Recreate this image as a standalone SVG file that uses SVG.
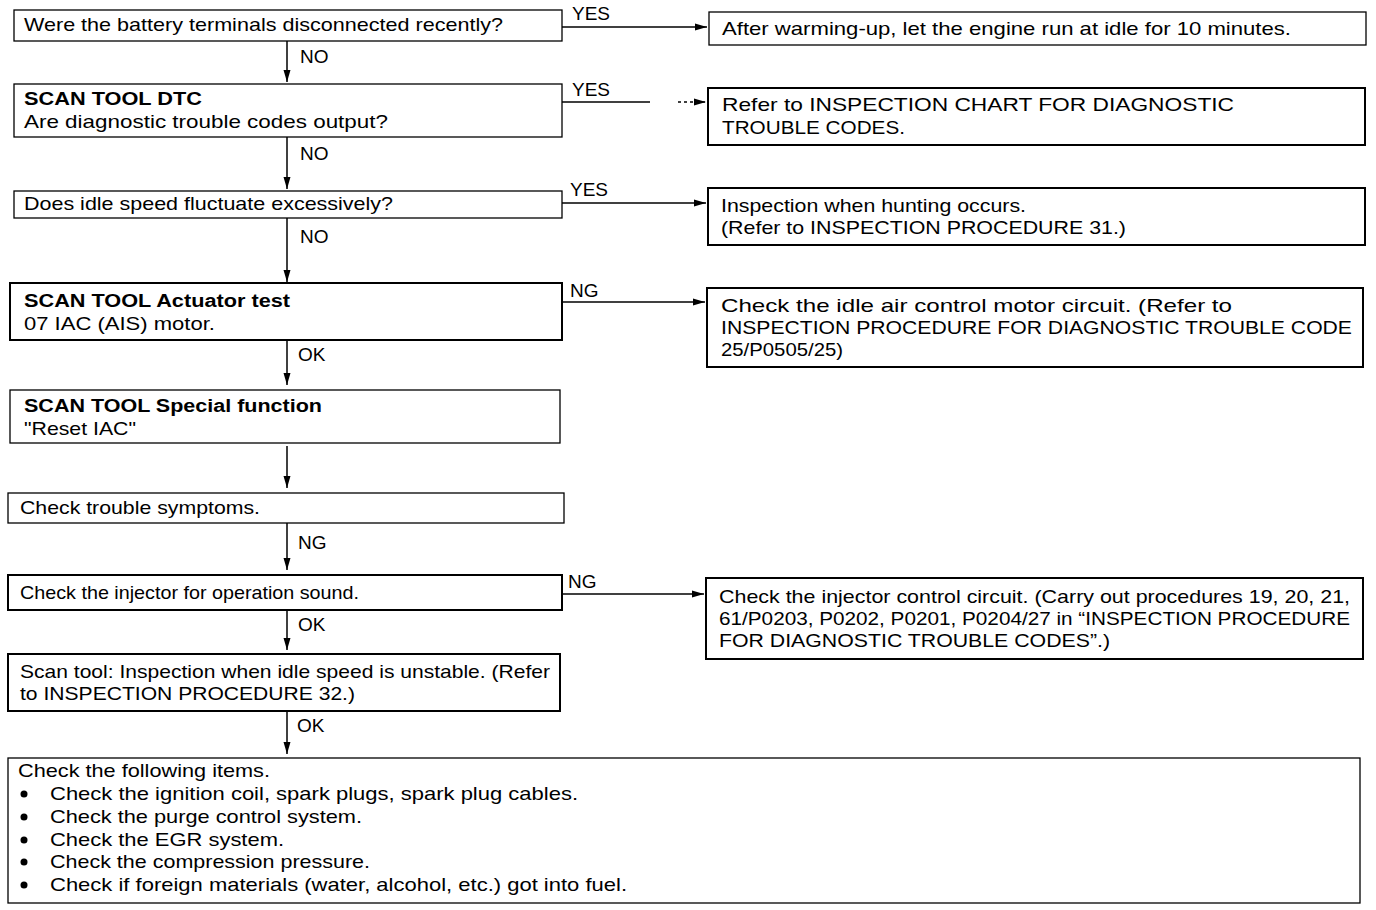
<svg xmlns="http://www.w3.org/2000/svg" width="1376" height="910" viewBox="0 0 1376 910">
<defs>
<style>
.box{fill:#fff;stroke:#000;stroke-width:1.3}
.thk{stroke-width:2}
text{font-family:"Liberation Sans",Arial,sans-serif;font-size:19px;fill:#000}
.b{font-weight:bold;font-size:18px}
.ln{stroke:#000;stroke-width:1.5;fill:none}
</style>
<marker id="ah" markerWidth="12" markerHeight="8" refX="12" refY="4" orient="auto" markerUnits="userSpaceOnUse">
<path d="M0,0.5 L12,4 L0,7.5 Z" fill="#000"/>
</marker>
</defs>
<rect width="1376" height="910" fill="#fff"/>

<g id="n1"><rect class="box" x="14" y="10" width="548" height="31"/><text x="24" y="31" textLength="479" lengthAdjust="spacingAndGlyphs">Were the battery terminals disconnected recently?</text></g>
<g id="n2"><rect class="box" x="14" y="84" width="548" height="53"/><text class="b" x="24" y="105" textLength="178" lengthAdjust="spacingAndGlyphs">SCAN TOOL DTC</text><text x="24" y="128" textLength="364" lengthAdjust="spacingAndGlyphs">Are diagnostic trouble codes output?</text></g>
<g id="n3"><rect class="box" x="14" y="191" width="548" height="27"/><text x="24" y="210" textLength="369" lengthAdjust="spacingAndGlyphs">Does idle speed fluctuate excessively?</text></g>
<g id="n4"><rect class="box thk" x="10" y="283" width="552" height="57"/><text class="b" x="24" y="307" textLength="266" lengthAdjust="spacingAndGlyphs">SCAN TOOL Actuator test</text><text x="24" y="330" textLength="191" lengthAdjust="spacingAndGlyphs">07 IAC (AIS) motor.</text></g>
<g id="n5"><rect class="box" x="10" y="390" width="550" height="53"/><text class="b" x="24" y="412" textLength="298" lengthAdjust="spacingAndGlyphs">SCAN TOOL Special function</text><text x="24" y="435" textLength="112" lengthAdjust="spacingAndGlyphs">"Reset IAC"</text></g>
<g id="n6"><rect class="box" x="8" y="493" width="556" height="30"/><text x="20" y="514" textLength="240" lengthAdjust="spacingAndGlyphs">Check trouble symptoms.</text></g>
<g id="n7"><rect class="box thk" x="8" y="575" width="554" height="35"/><text x="20" y="599" textLength="339" lengthAdjust="spacingAndGlyphs">Check the injector for operation sound.</text></g>
<g id="n8"><rect class="box thk" x="8" y="654" width="552" height="57"/><text x="20" y="678" textLength="530" lengthAdjust="spacingAndGlyphs">Scan tool: Inspection when idle speed is unstable. (Refer</text><text x="20" y="700" textLength="335" lengthAdjust="spacingAndGlyphs">to INSPECTION PROCEDURE 32.)</text></g>
<g id="n9"><rect class="box" x="8" y="758" width="1352" height="145"/>
<text x="18" y="777" textLength="252" lengthAdjust="spacingAndGlyphs">Check the following items.</text>
<circle cx="24" cy="794" r="3.5"/><text x="50" y="800" textLength="528" lengthAdjust="spacingAndGlyphs">Check the ignition coil, spark plugs, spark plug cables.</text>
<circle cx="24" cy="817" r="3.5"/><text x="50" y="823" textLength="312" lengthAdjust="spacingAndGlyphs">Check the purge control system.</text>
<circle cx="24" cy="840" r="3.5"/><text x="50" y="846" textLength="234" lengthAdjust="spacingAndGlyphs">Check the EGR system.</text>
<circle cx="24" cy="862" r="3.5"/><text x="50" y="868" textLength="320" lengthAdjust="spacingAndGlyphs">Check the compression pressure.</text>
<circle cx="24" cy="885" r="3.5"/><text x="50" y="891" textLength="577" lengthAdjust="spacingAndGlyphs">Check if foreign materials (water, alcohol, etc.) got into fuel.</text>
</g>

<g id="r1"><rect class="box" x="709" y="12" width="657" height="33"/><text x="722" y="35" textLength="569" lengthAdjust="spacingAndGlyphs">After warming-up, let the engine run at idle for 10 minutes.</text></g>
<g id="r2"><rect class="box thk" x="708" y="88" width="657" height="57"/><text x="722" y="111" textLength="512" lengthAdjust="spacingAndGlyphs">Refer  to INSPECTION  CHART  FOR  DIAGNOSTIC</text><text x="722" y="134" textLength="183" lengthAdjust="spacingAndGlyphs">TROUBLE CODES.</text></g>
<g id="r3"><rect class="box thk" x="708" y="188" width="657" height="57"/><text x="721" y="212" textLength="305" lengthAdjust="spacingAndGlyphs">Inspection when hunting occurs.</text><text x="721" y="234" textLength="405" lengthAdjust="spacingAndGlyphs">(Refer to INSPECTION PROCEDURE 31.)</text></g>
<g id="r4"><rect class="box thk" x="707" y="288" width="656" height="79"/><text x="721" y="312" textLength="511" lengthAdjust="spacingAndGlyphs">Check the idle air control motor circuit. (Refer to</text><text x="721" y="334" textLength="631" lengthAdjust="spacingAndGlyphs">INSPECTION PROCEDURE FOR DIAGNOSTIC TROUBLE CODE</text><text x="721" y="356" textLength="122" lengthAdjust="spacingAndGlyphs">25/P0505/25)</text></g>
<g id="r5"><rect class="box thk" x="706" y="578" width="657" height="81"/><text x="719" y="603" textLength="631" lengthAdjust="spacingAndGlyphs">Check the injector control circuit. (Carry out procedures 19, 20, 21,</text><text x="719" y="625" textLength="631" lengthAdjust="spacingAndGlyphs">61/P0203, P0202, P0201, P0204/27 in “INSPECTION PROCEDURE</text><text x="719" y="647" textLength="391" lengthAdjust="spacingAndGlyphs">FOR DIAGNOSTIC TROUBLE CODES”.)</text></g>

<g id="connectors">
<line class="ln" x1="287" y1="41" x2="287" y2="82" marker-end="url(#ah)"/>
<line class="ln" x1="287" y1="137" x2="287" y2="189" marker-end="url(#ah)"/>
<line class="ln" x1="287" y1="218" x2="287" y2="282" marker-end="url(#ah)"/>
<line class="ln" x1="287" y1="340" x2="287" y2="385" marker-end="url(#ah)"/>
<line class="ln" x1="287" y1="446" x2="287" y2="488" marker-end="url(#ah)"/>
<line class="ln" x1="287" y1="523" x2="287" y2="570" marker-end="url(#ah)"/>
<line class="ln" x1="287" y1="610" x2="287" y2="650" marker-end="url(#ah)"/>
<line class="ln" x1="287" y1="711" x2="287" y2="754" marker-end="url(#ah)"/>
<line class="ln" x1="562" y1="27" x2="707" y2="27" marker-end="url(#ah)"/>
<line class="ln" x1="562" y1="102" x2="650" y2="102"/>
<line class="ln" x1="678" y1="102" x2="706" y2="102" stroke-dasharray="3 3" marker-end="url(#ah)"/>
<line class="ln" x1="562" y1="203" x2="706" y2="203" marker-end="url(#ah)"/>
<line class="ln" x1="562" y1="302" x2="705" y2="302" marker-end="url(#ah)"/>
<line class="ln" x1="562" y1="594" x2="704" y2="594" marker-end="url(#ah)"/>
<text x="300" y="63">NO</text>
<text x="300" y="160">NO</text>
<text x="300" y="243">NO</text>
<text x="298" y="361">OK</text>
<text x="298" y="549">NG</text>
<text x="298" y="631">OK</text>
<text x="297" y="732">OK</text>
<text x="572" y="20">YES</text>
<text x="572" y="96">YES</text>
<text x="570" y="196">YES</text>
<text x="570" y="297">NG</text>
<text x="568" y="588">NG</text>
</g>
</svg>
